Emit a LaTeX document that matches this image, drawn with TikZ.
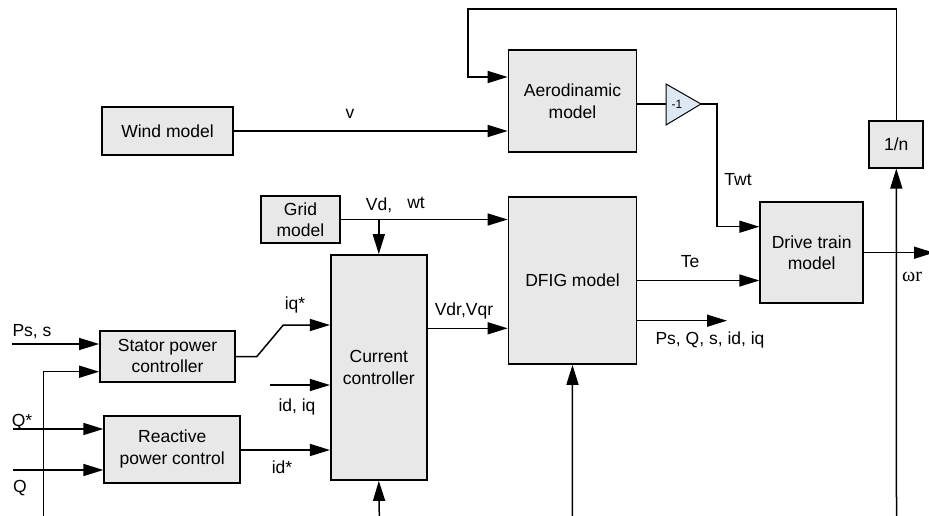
\documentclass[tikz,border=0pt]{standalone}
\usepackage{fontspec}
\setmainfont{Liberation Sans}
\newfontfamily\serifw{Liberation Serif}
\usetikzlibrary{arrows.meta,calc}
\definecolor{boxgray}{RGB}{232,232,232}
\definecolor{triblue}{RGB}{222,232,243}
\begin{document}
\begin{tikzpicture}[x=1pt,y=-1pt,
  font=\fontsize{17.5}{21.5}\selectfont,
  box/.style={draw, line width=1.7pt, fill=boxgray, inner sep=0pt, align=center},
  wire/.style={line width=1.5pt},
  arr/.style={line width=1.5pt, -{Triangle[length=20pt,width=12pt]}},
  lbl/.style={inner sep=0pt, anchor=center}]
\useasboundingbox (0,0) rectangle (929,516);
% boxes
\node[box, minimum width=131pt, minimum height=48pt] (wind) at (167.5,131) {Wind model};
\node[box, minimum width=79pt, minimum height=47pt] (grid) at (300.5,219.5) {Grid\\model};
\node[box, minimum width=128pt, minimum height=102pt] (aero) at (572.5,101) {Aerodinamic\\model};
\node[box, minimum width=128pt, minimum height=167pt] (dfig) at (572.5,280.5) {DFIG model};
\node[box, minimum width=103pt, minimum height=101pt] (drive) at (811.7,252.8) {Drive train\\model};
\node[box, minimum width=54pt, minimum height=47pt] (onen) at (896.3,144.2) {1/n};
\node[box, minimum width=96pt, minimum height=225pt] (cc) at (378.8,367.5) {Current\\controller};
\node[box, minimum width=135pt, minimum height=51pt] (spc) at (167.5,356.2) {Stator power\\controller};
\node[box, minimum width=136pt, minimum height=67pt] (rpc) at (172.2,449.2) {Reactive\\power control};
% gain triangle
\coordinate (gainIn) at (666,104);
\coordinate (gainOut) at (701,104);
\draw[line width=1pt, fill=triblue] (666,84) -- (gainOut) -- (666,125) -- cycle;
\node[lbl, font=\fontsize{12}{14}\selectfont] (gainlbl) at (677,104) {-1};
% helper coordinates
\coordinate (fbTL) at (468,9);
\coordinate (yFb) at (0,77);
\coordinate (gCorner) at (717,104);
\coordinate (yTw) at (0,226.7);
\coordinate (yVdr) at (0,328.3);
\coordinate (yPs) at (0,320.7);
\coordinate (psEnd) at (727,320.7);
\coordinate (wrEnd) at (934,252.7);
\coordinate (onenB) at (896.5,516);
\coordinate (dfigB) at (572.3,516);
\coordinate (ccB) at (379.3,516);
\coordinate (PsIn) at (12.3,344);
\coordinate (vStart) at (43.3,516);
\coordinate (yS2) at (0,371.7);
\coordinate (QsIn) at (13,429);
\coordinate (QIn) at (13,470);
\coordinate (iqA) at (256.7,356.7);
\coordinate (iqB) at (283.3,325);
\coordinate (idiqIn) at (270,385);
\coordinate (yIdS) at (0,450);
% connectors
\draw[arr] (onen.north) -- (onen.north |- fbTL) -- (fbTL) |- (aero.west |- yFb);
\draw[arr] (wind.east) -- (aero.west |- wind.east);
\draw[wire] (aero.east |- gainIn) -- (gainIn);
\draw[arr] (gainOut) -- (gCorner) |- (drive.west |- yTw);
\draw[arr] (grid.east) -- (dfig.west |- grid.east);
\draw[arr] (cc.north |- grid.east) -- (cc.north);
\draw[arr] (cc.east |- yVdr) -- (dfig.west |- yVdr);
\draw[arr] (dfig.east) -- (drive.west |- dfig.east);
\draw[arr] (dfig.east |- yPs) -- (psEnd);
\draw[arr] (drive.east |- wrEnd) -- (wrEnd);
\draw[arr] (onenB) -- (onen.south);
\draw[arr] (dfigB) -- (dfig.south);
\draw[arr] (ccB) -- (cc.south);
\draw[arr] (PsIn) -- (spc.west |- PsIn);
\draw[arr] (vStart) |- (spc.west |- yS2);
\draw[arr] (QsIn) -- (rpc.west |- QsIn);
\draw[arr] (QIn) -- (rpc.west |- QIn);
\draw[arr] (spc.east |- iqA) -- (iqA) -- (iqB) -- (cc.west |- iqB);
\draw[arr] (idiqIn) -- (cc.west |- idiqIn);
\draw[arr] (rpc.east |- yIdS) -- (cc.west |- yIdS);
% labels
\node[lbl] (lv) at (350,114) {v};
\node[lbl] (ltwt) at (738,180) {Twt};
\node[lbl] (lvd) at (379,205) {Vd,};
\node[lbl] (lwt) at (416,203) {wt};
\node[lbl] (lvdr) at (464,311) {Vdr,Vqr};
\node[lbl] (lte) at (690,262) {Te};
\node[lbl] (lps) at (710,340) {Ps, Q, s, id, iq};
\node[lbl, font=\fontsize{20}{22}\selectfont] (lwr) at (912,277) {\serifw ωr};
\node[lbl] (lpss) at (32,332) {Ps, s};
\node[lbl] (lqs) at (22,422) {Q*};
\node[lbl] (lq) at (20,488) {Q};
\node[lbl] (liqs) at (295,305) {iq*};
\node[lbl] (lidiq) at (297,407) {id, iq};
\node[lbl] (lids) at (282,467) {id*};
\end{tikzpicture}
\end{document}
